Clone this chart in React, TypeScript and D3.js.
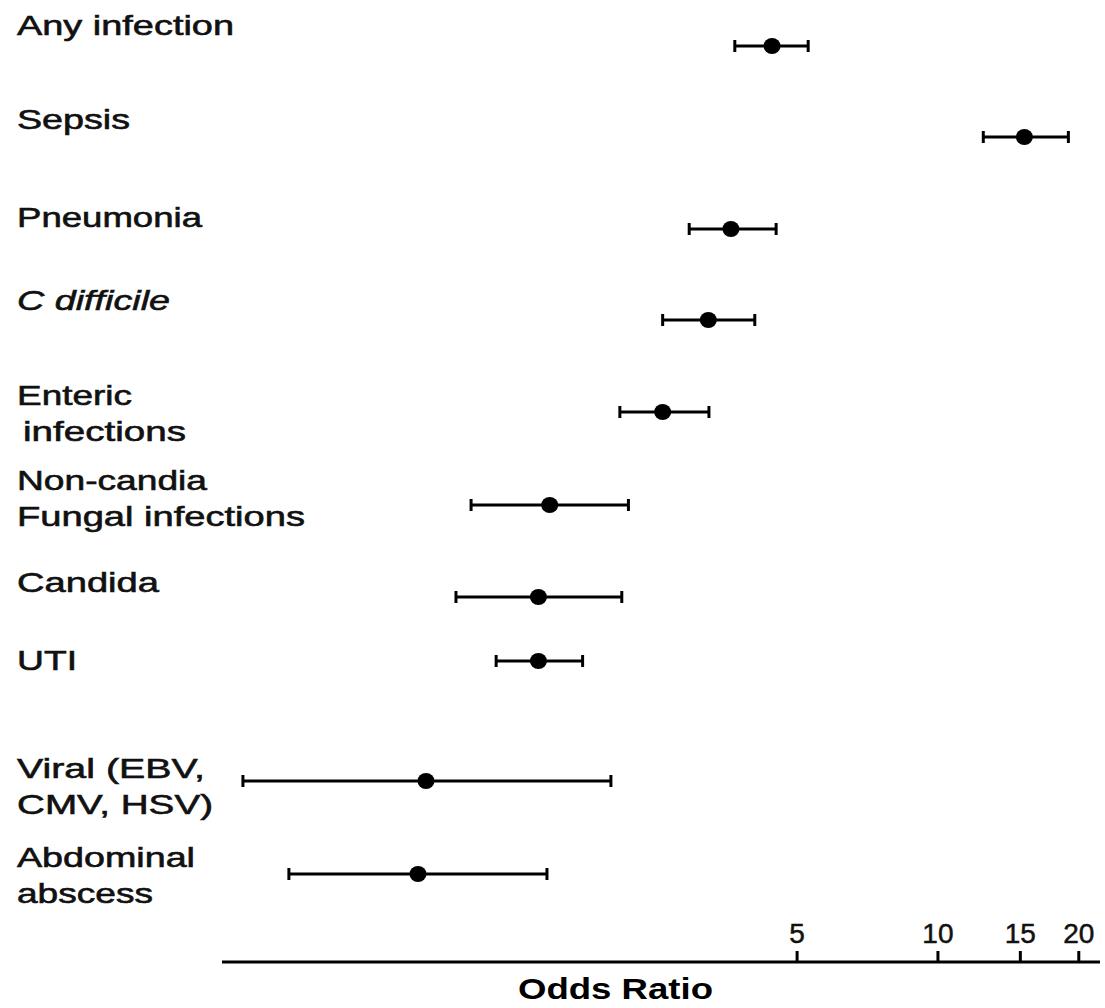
import React from "react";
import * as d3 from "d3";

// ---- data ----
const categories: string[][] = [
  ["Any infection"],
  ["Sepsis"],
  ["Pneumonia"],
  ["C difficile"],
  ["Enteric", " infections"],
  ["Non-candia", "Fungal infections"],
  ["Candida"],
  ["UTI"],
  ["Viral (EBV,", "CMV, HSV)"],
  ["Abdominal", "abscess"],
];
const oddsRatio = [4.42, 15.3, 3.61, 3.23, 2.58, 1.48, 1.4, 1.4, 0.805, 0.774];
const ciLow = [3.68, 12.5, 2.94, 2.58, 2.09, 1.005, 0.933, 1.137, 0.327, 0.41];
const ciHigh = [5.28, 19.0, 4.51, 4.06, 3.24, 2.18, 2.11, 1.74, 2.0, 1.46];
const tickValues = [5, 10, 15, 20];
const axisTitle = "Odds Ratio";

// ---- layout ----
const W = 1105;
const H = 1008;
const rowY = [46, 137, 229, 320, 412, 505, 597, 661, 781, 874];
const labelBaseline = [35, 129, 227, 310, 405, 490, 592, 670, 778, 867];
const lineGap = 36;
const labelWidths: number[][] = [
  [217],
  [113],
  [185],
  [153],
  [115, 163],
  [190, 288],
  [142],
  [60],
  [188, 196],
  [178, 136],
];
const italicRows = new Set([3]);
const axisY = 962;

export default function App() {
  const x = d3.scaleLog().domain([0.295, 22.2]).range([222, 1100]);
  const font = "'Liberation Sans', Arial, sans-serif";
  const capH = 6;

  return (
    <svg
      width={W}
      height={H}
      viewBox={`0 0 ${W} ${H}`}
      style={{ position: "absolute", left: 0, top: 0, background: "#fff" }}
      fontFamily={font}
    >
      <rect width={W} height={H} fill="#fff" />
      {/* labels */}
      {categories.map((lines, i) => (
        <g key={"l" + i}>
          {lines.map((ln, j) => (
            <text
              key={j}
              x={ln.startsWith(" ") ? 23 : 17}
              y={labelBaseline[i] + j * lineGap}
              fontSize={28}
              fill="#111"
              stroke="#111"
              strokeWidth={0.6}
              fontStyle={italicRows.has(i) ? "italic" : "normal"}
              textLength={labelWidths[i][j]}
              lengthAdjust="spacingAndGlyphs"
            >
              {ln.trim()}
            </text>
          ))}
        </g>
      ))}
      {/* error bars */}
      {oddsRatio.map((v, i) => {
        const y = rowY[i];
        const x0 = x(ciLow[i]);
        const x1 = x(ciHigh[i]);
        return (
          <g key={"e" + i} stroke="#000" fill="#000">
            <line x1={x0} x2={x1} y1={y} y2={y} strokeWidth={3} />
            <line x1={x0} x2={x0} y1={y - capH} y2={y + capH} strokeWidth={3} />
            <line x1={x1} x2={x1} y1={y - capH} y2={y + capH} strokeWidth={3} />
            <ellipse cx={x(v)} cy={y} rx={8.5} ry={8} stroke="none" />
          </g>
        );
      })}
      {/* axis */}
      <line x1={222} x2={1100} y1={axisY} y2={axisY} stroke="#000" strokeWidth={3} />
      {tickValues.map((t) => (
        <g key={"t" + t}>
          <line x1={x(t)} x2={x(t)} y1={axisY} y2={axisY - 11} stroke="#000" strokeWidth={3} />
          <text
            x={x(t)}
            y={943}
            fontSize={28}
            textAnchor="middle"
            fill="#111"
            stroke="#111"
            strokeWidth={0.5}
          >
            {String(t)}
          </text>
        </g>
      ))}
      <text
        x={518}
        y={999}
        fontSize={30}
        fontWeight="bold"
        fill="#000"
        textLength={195}
        lengthAdjust="spacingAndGlyphs"
      >
        {axisTitle}
      </text>
    </svg>
  );
}
